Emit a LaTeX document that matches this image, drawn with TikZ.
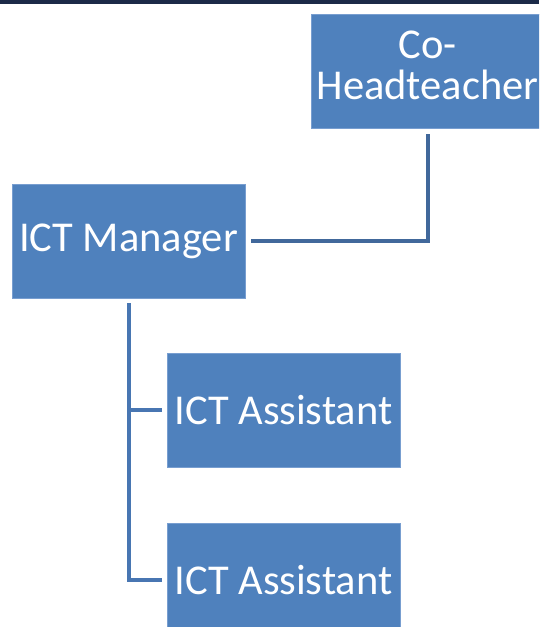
\documentclass[tikz,border=0pt]{standalone}
\usepackage{fontspec}
\setmainfont{Carlito}
\usepackage{xcolor}
\usetikzlibrary{positioning}

\definecolor{boxBlue}{RGB}{79,129,189}
\definecolor{boxEdge}{RGB}{120,158,208}
\definecolor{headLine}{RGB}{65,104,155}
\definecolor{mgrLine}{RGB}{72,118,178}
\definecolor{topBar}{RGB}{28,42,72}

\begin{document}
\begin{tikzpicture}[x=1pt,y=-1pt,
	post/.style={rectangle, fill=boxBlue, draw=boxEdge, line width=0.8pt, text=white,
		minimum width=233pt, minimum height=114pt, inner sep=0pt,
		font=\fontsize{42.5}{38}\selectfont},
	link/.style={draw=#1, line width=4pt}]
	\newcommand{\gapLen}{6pt}
	
	\path[use as bounding box, clip] (0,0) rectangle (539,627);	% page
	\fill[topBar] (0,0) rectangle (539,3.5);					% top rule
	
	% posts
	\node[post] (head) at (427.5,71) {\raisebox{5pt}{\begin{tabular}{@{}c@{}}Co-\\Headteacher\end{tabular}}};
	\node[post] (mgr) at (128.5,241) {ICT Manager};
	\node[post] (asst1) at (283.5,410) {ICT Assistant};
	\node[post] (asst2) at (283.5,580) {ICT Assistant};
	
	% reporting lines
	\draw[link=headLine] ([yshift=-\gapLen]head.south) |- ([xshift=\gapLen]mgr.east);
	\draw[link=mgrLine] ([yshift=-5pt]mgr.south) |- ([xshift=-5pt]asst1.west);
	\draw[link=mgrLine] ([yshift=-5pt]mgr.south) |- ([xshift=-5pt]asst2.west);
\end{tikzpicture}
\end{document}
